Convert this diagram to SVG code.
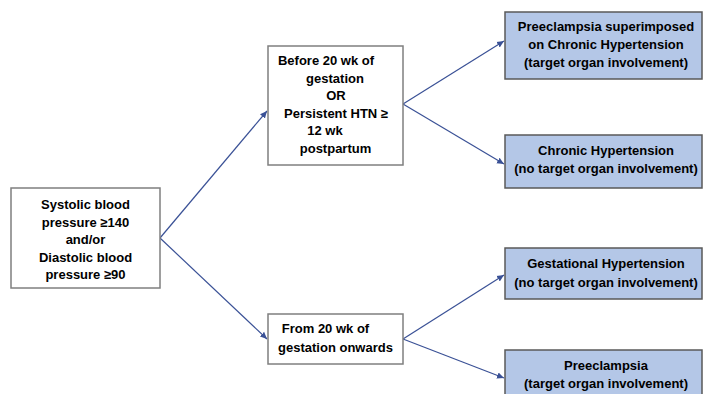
<svg xmlns="http://www.w3.org/2000/svg" width="704" height="394" viewBox="0 0 704 394">
<style>
.w{fill:#ffffff;stroke:#7f7f7f;stroke-width:1.5}
.b{fill:#b4c7e7;stroke:#595959;stroke-width:1.5}
text{font-family:"Liberation Sans",Arial,sans-serif;font-weight:bold;font-size:13px;fill:#000;text-anchor:middle}
.c line{stroke:#3a5196;stroke-width:1.2;marker-end:url(#ah)}
</style>
<defs>
<marker id="ah" markerWidth="8" markerHeight="8" refX="7" refY="4" orient="auto" markerUnits="userSpaceOnUse">
<path d="M0,0.8 L7,4 L0,7.2 Z" fill="#3a5196"/>
</marker>
</defs>
<rect width="704" height="394" fill="#ffffff"/>
<g class="c" id="connectors">
<line x1="160" y1="238" x2="267" y2="111"/>
<line x1="160" y1="238" x2="267" y2="339"/>
<line x1="403" y1="104" x2="504" y2="41"/>
<line x1="403" y1="104" x2="504" y2="164"/>
<line x1="403" y1="339" x2="504" y2="275"/>
<line x1="403" y1="339" x2="504" y2="378"/>
</g>
<g id="n-bp">
<rect class="w" x="11" y="188" width="149" height="100"/>
<text x="85.5" y="209">Systolic blood</text>
<text x="85.5" y="226.5">pressure ≥140</text>
<text x="85.5" y="244">and/or</text>
<text x="85.5" y="261.5">Diastolic blood</text>
<text x="85.5" y="279">pressure ≥90</text>
</g>
<g id="n-before">
<rect class="w" x="268" y="46" width="135" height="119"/>
<text x="326" y="65">Before 20 wk of</text>
<text x="335" y="82.6">gestation</text>
<text x="336" y="100.2">OR</text>
<text x="336" y="117.8">Persistent HTN ≥</text>
<text x="325" y="135.4">12 wk</text>
<text x="335.5" y="153">postpartum</text>
</g>
<g id="n-from">
<rect class="w" x="268" y="314" width="135" height="50"/>
<text x="325.5" y="332.5">From 20 wk of</text>
<text x="335.5" y="351.5">gestation onwards</text>
</g>
<g id="n-superimposed">
<rect class="b" x="505" y="12" width="197" height="67"/>
<text x="606" y="31">Preeclampsia superimposed</text>
<text x="606" y="49">on Chronic Hypertension</text>
<text x="606" y="67">(target organ involvement)</text>
</g>
<g id="n-chronic">
<rect class="b" x="505" y="135" width="197" height="53"/>
<text x="606" y="154.5">Chronic Hypertension</text>
<text x="606" y="172.5">(no target organ involvement)</text>
</g>
<g id="n-gestational">
<rect class="b" x="505" y="248" width="197" height="51"/>
<text x="606" y="267.5">Gestational Hypertension</text>
<text x="606" y="286.5">(no target organ involvement)</text>
</g>
<g id="n-preeclampsia">
<rect class="b" x="505" y="350" width="197" height="52"/>
<text x="606" y="369.5">Preeclampsia</text>
<text x="606" y="387.5">(target organ involvement)</text>
</g>
</svg>
